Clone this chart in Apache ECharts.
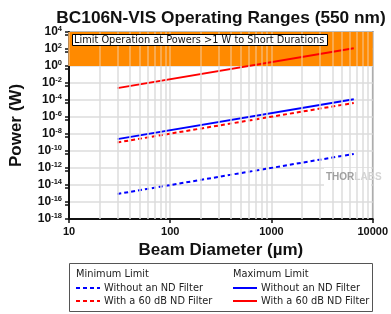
<!DOCTYPE html>
<html>
<head>
<meta charset="utf-8">
<script src="https://cdn.jsdelivr.net/npm/echarts@6/dist/echarts.min.js"></script>
<style>
  html, body { margin: 0; padding: 0; background: #fff; }
  #main { width: 391px; height: 314px; }
</style>
</head>
<body>
<div id="main"></div>
<script>
// beam diameters (µm) at the ends of each range
var diameters = [30, 6500];
// power limits (W)
var minNoND = [8.7e-16, 4.5e-11];
var minND = [1e-9, 4.5e-5];
var maxNoND = [2.5e-9, 1.2e-4];
var maxND = [2.5e-3, 120];

var xMin = 10, xMax = 10000;
var yMin = 1e-18, yMax = 1e4;
var limitBand = [1, 1e4];

var labels = {
  minNoND: "Without an ND Filter",
  minND: "With a 60 dB ND Filter",
  maxNoND: "Without an ND Filter",
  maxND: "With a 60 dB ND Filter"
};

function pairs(ys) {
  return diameters.map(function (d, i) { return [d, ys[i]]; });
}

// vertical grid at 1..9 of each decade, plus small ticks below the axis
var gridLines = [];
var tickLines = [];
for (var dec = 10; dec < xMax; dec *= 10) {
  for (var k = 1; k < 10; k++) {
    var v = dec * k;
    if (k > 1) {
      gridLines.push([{ coord: [v, yMin], lineStyle: { color: "#dcdcdc" } }, { coord: [v, limitBand[0]] }]);
      tickLines.push([{ coord: [v, yMin] }, { coord: [v, Math.pow(10, -18.35)] }]);
    }
    gridLines.push([{ coord: [v, limitBand[0]], lineStyle: { color: "#f7b46a" } }, { coord: [v, limitBand[1]] }]);
  }
}

var chart = echarts.init(document.getElementById("main"));

var legendText = { fontFamily: "DejaVu Sans", fontSize: 9.8, color: "#222", padding: [0, 0, 0, -1] };

var option = {
  animation: false,
  title: [
    {
      text: "BC106N-VIS Operating Ranges (550 nm)",
      left: 216,
      textAlign: "center",
      top: 5,
      textStyle: { fontFamily: "Liberation Sans", fontSize: 17.3, fontWeight: "bold", color: "#111" }
    },
    {
      text: "Limit Operation at Powers >1 W to Short Durations",
      left: 72,
      top: 34,
      padding: [1, 3, 1, 2],
      backgroundColor: "#fff",
      borderColor: "#000",
      borderWidth: 1,
      textStyle: { fontFamily: "DejaVu Sans", fontSize: 9.8, fontWeight: "normal", color: "#111" }
    }
  ],
  grid: {
    left: 68, right: 18, top: 32, bottom: 95,
    show: true, borderColor: "#222", borderWidth: 1.5, backgroundColor: "transparent"
  },
  xAxis: {
    type: "log",
    min: xMin,
    max: xMax,
    name: "Beam Diameter (µm)",
    nameLocation: "middle",
    nameGap: 22,
    nameTextStyle: { fontFamily: "Liberation Sans", fontSize: 17, fontWeight: "bold", color: "#111" },
    axisLine: { lineStyle: { color: "#111", width: 2 } },
    axisTick: { length: 4, lineStyle: { color: "#111", width: 1.5 } },
    axisLabel: {
      fontFamily: "Liberation Sans", fontSize: 11, fontWeight: "bold", color: "#111", margin: 7,
      formatter: function (v) { return String(Math.round(v)); }
    },
    splitLine: { show: true, lineStyle: { color: "#dcdcdc", width: 1.5 } }
  },
  yAxis: {
    type: "log",
    min: yMin,
    max: yMax,
    interval: 2,
    name: "Power (W)",
    nameLocation: "middle",
    nameGap: 44,
    nameTextStyle: { fontFamily: "Liberation Sans", fontSize: 17, fontWeight: "bold", color: "#111" },
    axisLine: { show: true, lineStyle: { color: "#111", width: 2 } },
    axisTick: { show: true, length: 4, lineStyle: { color: "#111", width: 1.5 } },
    minorTick: { show: true, splitNumber: 2, length: 4, lineStyle: { color: "#111", width: 1.5 } },
    axisLabel: {
      margin: 7,
      formatter: function (v) {
        var e = Math.round(Math.log10(v));
        return "{b|10}{s|" + e + "}";
      },
      rich: {
        b: { fontFamily: "Liberation Sans", fontSize: 12, fontWeight: "bold", color: "#111" },
        s: { fontFamily: "Liberation Sans", fontSize: 7.5, fontWeight: "bold", color: "#111", verticalAlign: "top", padding: [0, 0, 7, 0] }
      }
    },
    splitLine: { show: true, lineStyle: { color: "#dcdcdc", width: 1.5 } }
  },
  legend: [
    {
      left: 75, top: 283, height: 30, padding: 0, orient: "vertical", itemWidth: 24, itemHeight: 10, itemGap: 3,
      data: ["minNoND", "minND"],
      itemStyle: { opacity: 0 },
      formatter: function (n) { return labels[n]; },
      textStyle: legendText
    },
    {
      left: 232, top: 283, height: 30, padding: 0, orient: "vertical", itemWidth: 24, itemHeight: 10, itemGap: 3,
      data: ["maxNoND", "maxND"],
      itemStyle: { opacity: 0 },
      formatter: function (n) { return labels[n]; },
      textStyle: legendText
    }
  ],
  graphic: [
    { type: "rect", left: 69, top: 263, shape: { width: 303, height: 48 }, style: { fill: "#fff", stroke: "#555", lineWidth: 1 }, z: -1 },
    { type: "text", left: 76, top: 269, style: { text: "Minimum Limit", font: "9.8px DejaVu Sans", fill: "#222" } },
    { type: "text", left: 233, top: 269, style: { text: "Maximum Limit", font: "9.8px DejaVu Sans", fill: "#222" } },
    { type: "rect", left: 324, top: 168, shape: { width: 47, height: 18 }, style: { fill: "#fff" }, z: 5 },
    {
      type: "text", left: 326, top: 172, z: 6,
      style: {
        text: "{a|THOR}{b|LABS}",
        rich: {
          a: { font: "bold 10px Liberation Sans", fill: "#a0a0a0" },
          b: { font: "bold 10px Liberation Sans", fill: "#d4d4d4" }
        }
      }
    }
  ],
  series: [
    {
      type: "line", name: "band", data: [], silent: true, z: 1,
      markArea: {
        silent: true,
        itemStyle: { color: "#ff8a00" },
        data: [[{ coord: [xMin, limitBand[0]] }, { coord: [xMax, limitBand[1]] }]]
      }
    },
    {
      type: "line", name: "grid", data: [], silent: true, z: 2, clip: false,
      markLine: {
        silent: true, symbol: "none", label: { show: false },
        lineStyle: { type: "solid", width: 1.5, color: "#dcdcdc" },
        data: gridLines
      }
    },
    {
      type: "line", name: "ticks", data: [], silent: true, z: 2, clip: false,
      markLine: {
        silent: true, symbol: "none", label: { show: false },
        lineStyle: { type: "solid", width: 1.5, color: "#111" },
        data: tickLines
      }
    },
    {
      type: "line", name: "minNoND", data: pairs(minNoND), symbol: "none", z: 4,
      itemStyle: { color: "#0000ff" },
      lineStyle: { color: "#0000ff", width: 2, type: [4, 3] }
    },
    {
      type: "line", name: "minND", data: pairs(minND), symbol: "none", z: 4,
      itemStyle: { color: "#ff0000" },
      lineStyle: { color: "#ff0000", width: 2, type: [4, 3] }
    },
    {
      type: "line", name: "maxNoND", data: pairs(maxNoND), symbol: "none", z: 4,
      itemStyle: { color: "#0000ff" },
      lineStyle: { color: "#0000ff", width: 2 }
    },
    {
      type: "line", name: "maxND", data: pairs(maxND), symbol: "none", z: 4,
      itemStyle: { color: "#ff0000" },
      lineStyle: { color: "#ff0000", width: 2 }
    }
  ]
};

chart.setOption(option);
</script>
</body>
</html>
